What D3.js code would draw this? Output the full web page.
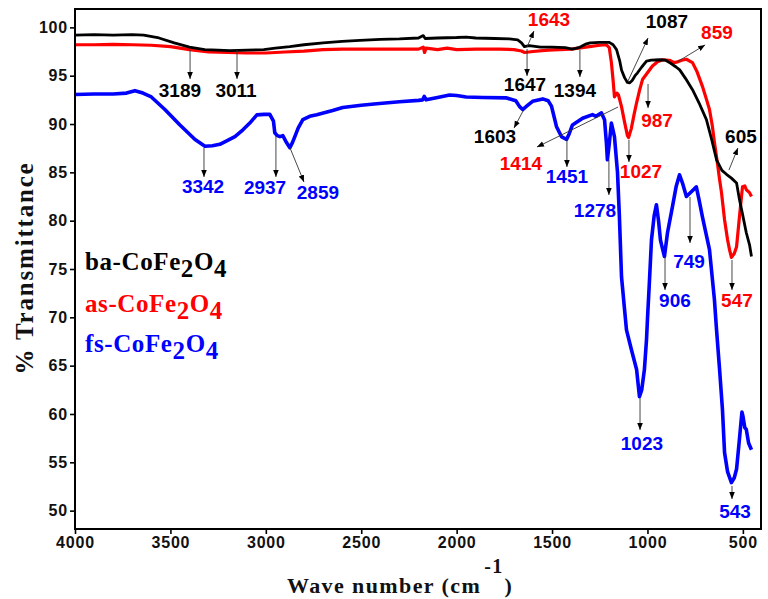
<!DOCTYPE html>
<html>
<head>
<meta charset="utf-8">
<script src="https://cdn.jsdelivr.net/npm/d3@7/dist/d3.min.js"></script>
<style>
  html, body { margin: 0; padding: 0; background: #fff; }
  svg { display: block; }
</style>
</head>
<body>
<svg id="chart" width="768" height="599"></svg>
<script>
// ---------------- DATA ----------------
const xTicks = [4000, 3500, 3000, 2500, 2000, 1500, 1000, 500];
const yTicks = [50, 55, 60, 65, 70, 75, 80, 85, 90, 95, 100];

// ba-CoFe2O4 (black)  [wavenumber, %T]
const baSeries = [
  [4000,99.2],[3900,99.25],[3800,99.2],[3700,99.25],[3640,99.2],[3560,98.9],[3480,98.4],[3400,97.95],
  [3320,97.7],[3250,97.65],[3189,97.6],[3100,97.65],[3011,97.7],[2950,97.85],[2874,98.0],[2800,98.2],
  [2700,98.4],[2600,98.55],[2507,98.65],[2400,98.75],[2300,98.8],[2200,98.9],[2175,99.15],[2165,98.85],
  [2100,98.9],[2000,98.95],[1950,99.0],[1900,98.9],[1800,98.85],[1723,98.8],[1680,98.7],[1660,98.4],
  [1645,98.0],[1620,98.1],[1560,97.95],[1500,97.95],[1430,97.9],[1394,97.75],[1360,97.9],[1320,98.3],
  [1300,98.4],[1250,98.45],[1200,98.45],[1180,98.2],[1162,97.7],[1145,96.5],[1136,95.6],[1120,94.8],
  [1105,94.3],[1094,94.25],[1080,94.5],[1065,95.0],[1052,95.3],[1030,95.9],[1005,96.5],[980,96.6],
  [937,96.65],[905,96.6],[880,96.3],[850,95.9],[831,95.6],[800,94.7],[764,93.55],[730,92.2],[691,90.45],
  [665,88.5],[638,86.3],[610,85.2],[586,84.8],[560,84.4],[533,83.9],[518,82.2],[500,80.5],[482,78.75],
  [465,77.5],[455,76.3]
];

// as-CoFe2O4 (red)
const asSeries = [
  [4000,98.2],[3900,98.2],[3800,98.25],[3700,98.2],[3600,98.15],[3500,98.0],[3400,97.7],[3300,97.45],
  [3200,97.4],[3100,97.35],[3000,97.35],[2900,97.45],[2800,97.55],[2700,97.7],[2600,97.75],[2400,97.75],
  [2200,97.75],[2175,97.95],[2168,97.4],[2160,97.85],[2100,97.7],[2050,97.85],[2000,97.7],[1900,97.75],
  [1775,97.75],[1700,97.7],[1660,97.55],[1644,97.4],[1600,97.5],[1520,97.65],[1461,97.7],[1400,97.75],
  [1304,98.0],[1250,98.15],[1215,98.2],[1200,97.9],[1189,96.35],[1180,94.5],[1173,92.8],[1160,93.2],
  [1152,93.0],[1136,91.8],[1120,90.2],[1105,88.8],[1099,88.6],[1085,89.5],[1070,91.0],[1057,92.2],
  [1040,93.6],[1026,94.6],[1000,95.3],[974,96.0],[950,96.4],[922,96.65],[885,96.6],[860,96.35],
  [848,96.4],[820,96.6],[796,96.7],[764,96.35],[740,95.4],[712,93.9],[690,92.5],[675,91.5],[660,89.8],
  [649,88.1],[635,86.2],[622,84.25],[612,82.9],[596,80.1],[580,78.0],[570,77.0],[560,76.2],[545,76.6],
  [533,77.3],[518,80.4],[502,83.5],[490,83.6],[482,83.2],[465,82.9],[455,82.5]
];

// fs-CoFe2O4 (blue)
const fsSeries = [
  [4000,93.05],[3900,93.1],[3800,93.1],[3730,93.2],[3686,93.45],[3644,93.2],[3600,92.8],[3529,91.5],
  [3450,89.9],[3371,88.4],[3319,87.7],[3280,87.75],[3241,87.9],[3200,88.3],[3162,88.7],[3120,89.4],
  [3084,90.1],[3047,90.95],[3010,91.0],[2979,91.0],[2960,90.3],[2953,89.1],[2940,88.8],[2926,88.7],
  [2911,88.8],[2895,88.2],[2874,87.55],[2860,88.1],[2848,88.7],[2830,89.6],[2806,90.45],[2770,90.8],
  [2733,90.97],[2650,91.4],[2597,91.7],[2500,91.95],[2419,92.1],[2300,92.3],[2200,92.45],[2178,92.5],
  [2170,92.85],[2160,92.5],[2100,92.75],[2037,93.0],[2000,92.95],[1950,92.8],[1864,92.75],[1738,92.7],
  [1690,92.4],[1670,91.8],[1654,91.5],[1630,91.9],[1602,92.35],[1549,92.6],[1520,92.4],[1503,91.85],
  [1490,90.8],[1477,89.75],[1451,88.7],[1424,88.4],[1410,89.0],[1393,89.9],[1340,90.6],[1288,90.97],
  [1270,90.8],[1241,91.15],[1225,90.45],[1215,88.0],[1210,86.3],[1200,88.0],[1189,90.1],[1173,88.7],
  [1157,85.0],[1147,80.4],[1136,74.2],[1120,70.8],[1110,68.7],[1084,66.65],[1057,64.6],[1042,61.8],
  [1030,62.5],[1016,64.6],[1005,67.7],[1000,69.8],[990,73.6],[979,78.0],[965,80.5],[953,81.65],
  [942,80.0],[932,78.0],[920,77.0],[911,76.3],[895,78.75],[869,81.45],[850,83.5],[832,84.75],
  [815,83.8],[796,82.5],[770,83.0],[744,83.5],[730,82.2],[712,80.4],[675,77.0],[660,74.0],[649,71.8],
  [638,68.7],[622,64.6],[607,60.45],[596,56.0],[580,54.0],[560,52.9],[545,53.4],[533,54.3],[518,57.4],
  [505,60.2],[500,59.8],[490,58.6],[482,58.4],[470,57.0],[455,56.3]
];

const seriesNames  = ["fs-CoFe2O4", "as-CoFe2O4", "ba-CoFe2O4"];
const seriesColors = ["#0000ff", "#ff0000", "#000000"];

// peak annotations: label, colour, text anchor [wn, %T], arrow from [wn, %T] to [wn, %T]
const peakLabels = ["3189","3011","3342","2937","2859","1643","1647","1394","1087","859","1603",
                    "1414","1451","1027","987","605","1278","906","749","547","1023","543"];
const peakColors = ["k","k","b","b","b","r","k","k","k","r","k","r","b","r","r","k","b","b","b","r","b","b"];
const peakText = [[3450,92.8],[3156,92.8],[3329,82.86],[3004,82.76],[2727,82.24],[1516,100.14],[1642,93.42],
  [1380,92.8],[898,99.93],[636,98.8],[1799,88.04],[1663,85.24],[1422,83.9],[1034,84.42],[950,89.69],
  [510,88.04],[1275,80.38],[856,71.07],[782,75.1],[531,71.07],[1029,56.27],[541,49.24]];
const peakArrowFrom = [[3397,97.66],[3151,97.66],[3324,87.52],[2947,88.76],[2873,87.52],[1631,97.97],
  [1631,97.76],[1354,97.66],[1102,94.45],[845,96.42],[1652,91.35],[1154,91.76],[1422,88.35],[1097,88.35],
  [997,94.14],[573,85.24],[1202,86.28],[908,76.24],[777,82.45],[557,75.93],[1039,61.65],[557,52.55]];
const peakArrowTo = [[3397,94.66],[3151,94.66],[3324,84.52],[2947,84.52],[2800,84.0],[1595,99.62],
  [1631,94.97],[1354,94.86],[997,98.9],[698,98.18],[1699,89.59],[1579,87.62],[1422,85.55],[1097,86.07],
  [997,91.66],[526,87.52],[1202,82.66],[908,72.83],[777,77.69],[557,72.83],[1039,58.34],[557,51.2]];

// ---------------- CHART ----------------
const W = 768, H = 599;
const margin = {left: 75, top: 9, right: 7, bottom: 70};
const svg = d3.select("#chart");

const x = d3.scaleLinear().domain([4000, 405]).range([margin.left, W - margin.right]);
const y = d3.scaleLinear().domain([48.1, 101.9]).range([H - margin.bottom, margin.top]);

const colorMap = {k: "#000000", r: "#ff0000", b: "#0000ff"};

// axes
const yAxis = d3.axisLeft(y).tickValues(yTicks).tickSize(5).tickPadding(2).tickFormat(d3.format("d"));
const xAxis = d3.axisBottom(x).tickValues(xTicks).tickSize(5).tickPadding(3).tickFormat(d3.format("d"));

const gy = svg.append("g").attr("transform", `translate(${margin.left},0)`).call(yAxis);
const gx = svg.append("g").attr("transform", `translate(0,${H - margin.bottom})`).call(xAxis);
[gx, gy].forEach(g => {
  g.select(".domain").remove();
  g.selectAll(".tick line").attr("stroke", "#000").attr("stroke-width", 1.6);
  g.selectAll(".tick text")
    .attr("fill", "#111")
    .style("font-family", "'Liberation Sans', Arial, sans-serif")
    .style("font-weight", "bold")
    .style("font-size", "16px")
    .style("letter-spacing", "0.8px");
});

// series
const line = d3.line().x(d => x(d[0])).y(d => y(d[1]));
const allSeries = [fsSeries, asSeries, baSeries];
const widths = [3.6, 3.2, 2.8];
allSeries.forEach((s, i) => {
  svg.append("path")
    .datum(s)
    .attr("fill", "none")
    .attr("stroke", seriesColors[i])
    .attr("stroke-width", widths[i])
    .attr("stroke-linejoin", "round")
    .attr("d", line);
});

// frame
svg.append("rect")
  .attr("x", margin.left).attr("y", margin.top)
  .attr("width", W - margin.left - margin.right)
  .attr("height", H - margin.top - margin.bottom)
  .attr("fill", "none").attr("stroke", "#000").attr("stroke-width", 2);

// arrow marker
svg.append("defs").append("marker")
  .attr("id", "arrowhead")
  .attr("viewBox", "0 0 10 10")
  .attr("refX", 10).attr("refY", 5)
  .attr("markerUnits", "userSpaceOnUse")
  .attr("markerWidth", 7).attr("markerHeight", 7)
  .attr("orient", "auto")
  .append("path").attr("d", "M0,1 L10,5 L0,9 Z").attr("fill", "#000");

// annotations
const ann = svg.append("g");
peakLabels.forEach((lab, i) => {
  ann.append("line")
    .attr("x1", x(peakArrowFrom[i][0])).attr("y1", y(peakArrowFrom[i][1]))
    .attr("x2", x(peakArrowTo[i][0])).attr("y2", y(peakArrowTo[i][1]))
    .attr("stroke", "#333").attr("stroke-width", 0.9)
    .attr("marker-end", "url(#arrowhead)");
  ann.append("text")
    .attr("x", x(peakText[i][0])).attr("y", y(peakText[i][1]))
    .attr("text-anchor", "middle")
    .attr("fill", colorMap[peakColors[i]])
    .style("font-family", "'Liberation Sans', Arial, sans-serif")
    .style("font-weight", "bold")
    .style("font-size", "19px")
    .text(lab);
});

// legend (chemical formulas with subscripts)
const legendY = [352, 312, 270];
seriesNames.forEach((name, i) => {
  const m = name.match(/^(.*CoFe)2O4$/);
  const t = svg.append("text")
    .attr("x", 85).attr("y", legendY[i])
    .attr("fill", seriesColors[i])
    .style("font-family", "'Liberation Serif', 'DejaVu Serif', serif")
    .style("font-weight", "bold")
    .style("font-size", "25px")
    .style("letter-spacing", "0.6px");
  t.append("tspan").text(m[1]);
  t.append("tspan").attr("dy", 7).text("2");
  t.append("tspan").attr("dy", -7).text("O");
  t.append("tspan").attr("dy", 7).text("4");
});

// axis titles
svg.append("text")
  .attr("transform", `translate(33,268) rotate(-90)`)
  .attr("text-anchor", "middle")
  .attr("fill", "#111")
  .style("font-family", "'Liberation Serif', 'DejaVu Serif', serif")
  .style("font-weight", "bold")
  .style("font-size", "25px")
  .style("letter-spacing", "1.8px")
  .text("% Transmittance");

const xt = svg.append("text")
  .attr("x", 287).attr("y", 593)
  .attr("fill", "#111")
  .style("font-family", "'Liberation Serif', 'DejaVu Serif', serif")
  .style("font-weight", "bold")
  .style("font-size", "22px")
  .style("letter-spacing", "1.4px");
xt.append("tspan").text("Wave number (cm");
xt.append("tspan").attr("dx", 3).attr("dy", -20).style("font-size", "20px").text("-1");
xt.append("tspan").attr("dx", 1).attr("dy", 20).text(")");
</script>
</body>
</html>
